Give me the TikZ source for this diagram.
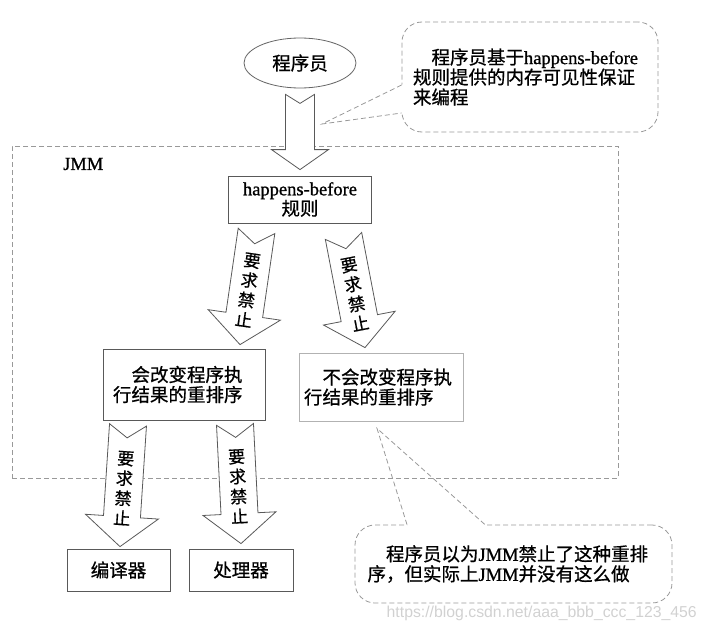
\documentclass[tikz,border=0pt]{standalone}
\usepackage{fontspec}
\setmainfont{Liberation Serif}[FakeBold=1]
\newfontfamily\cjk{Noto Sans CJK SC}[FakeBold=0.8]
\newfontfamily\urlfont{Liberation Sans}
\usetikzlibrary{shapes.geometric,calc}

\newcommand{\lat}[1]{{\rmfamily #1}}
\newcommand{\arrowdims}[4]{\def\shaftw{#1}\def\headw{#2}\def\headl{#3}\def\notchd{#4}}
\newcommand{\fatarrow}[4]{%
  \coordinate (#1-b) at ($(#3)!\headl!(#2)$);
  \draw[fatline] ($(#2)!\shaftw!90:(#3)$) -- ($(#2)!\notchd!(#3)$) -- ($(#2)!\shaftw!-90:(#3)$)
    -- ($(#1-b)!\shaftw!-90:(#3)$) -- ($(#1-b)!\headw!-90:(#3)$) -- (#3)
    -- ($(#1-b)!\headw!90:(#3)$) -- ($(#1-b)!\shaftw!90:(#3)$) -- cycle;
  \path let \p1=($(#3)-(#2)$), \n1={atan2(\y1,\x1)+90} in
    node[armtext, rotate=\n1] (#1) at ($(#2)!0.52!(#3)$) {#4};
}

\begin{document}
\begin{tikzpicture}[x=1pt,y=-1pt,
  every node/.style={font=\cjk\fontsize{18.5}{20}\selectfont},
  box/.style={draw=black!65, line width=0.8pt, inner sep=0pt},
  greybox/.style={draw=black!30, line width=0.8pt, inner sep=0pt},
  note/.style={draw=black!40, dash pattern=on 5pt off 3pt, line width=0.8pt, rounded corners=20pt},
  pointer/.style={draw=black!40, dash pattern=on 5pt off 3pt, line width=0.8pt},
  fatline/.style={draw=black!65, line width=0.8pt, fill=white, line join=miter},
  armtext/.style={font=\cjk\fontsize{17}{20}\selectfont, align=center, inner sep=0pt}]
\useasboundingbox (0,0) rectangle (704,634);

% JMM frame
\node[draw=black!40, dash pattern=on 5pt off 3pt, line width=0.8pt, minimum width=606pt, minimum height=332pt, inner sep=0pt] (jmm) at (315,312) {};
\node[anchor=west, inner sep=0pt] (jmmlabel) at (63,164) {\lat{JMM}};

% nodes
\node[ellipse, draw=black!60, line width=0.8pt, minimum width=112pt, minimum height=50pt, inner sep=0pt] (prog) at (300,63) {程序员};
\node[box, minimum width=143pt, minimum height=47pt, align=center] (hb) at (300,199.5) {\lat{happens-before}\\规则};
\node[box, minimum width=162pt, minimum height=71pt, text width=142pt, inner xsep=10pt, align=left] (lbox) at (184,384.5) {\hspace*{1em}会改变程序执\\行结果的重排序};
\node[greybox, minimum width=164pt, minimum height=68pt, text width=154pt, inner xsep=5pt, align=left] (rbox) at (381,387) {\hspace*{1em}不会改变程序执\\行结果的重排序};
\node[box, minimum width=103pt, minimum height=42pt] (comp) at (118.5,570) {编译器};
\node[box, minimum width=104pt, minimum height=42pt] (cpu) at (241,570) {处理器};

% fat arrows
\coordinate (t0) at ($(prog.south)+(0,6)$);
\coordinate (h0) at ($(hb.north)+(0,-6)$);
\coordinate (tA) at ($(hb.south)+(-43.5,7.5)$);
\coordinate (hA) at ($(lbox.north)+(56,-4)$);
\coordinate (tB) at ($(hb.south)+(43.5,12.5)$);
\coordinate (hB) at ($(rbox.north)+(-16,-5)$);
\coordinate (tC) at ($(lbox.south)+(-56,4.5)$);
\coordinate (hC) at ($(comp.north)+(1.5,-2)$);
\coordinate (tD) at ($(lbox.south)+(51,4)$);
\coordinate (hD) at ($(cpu.north)+(0,-5)$);
\arrowdims{14.5pt}{28.5pt}{20pt}{9pt}
\fatarrow{a0}{t0}{h0}{}
\arrowdims{18.5pt}{36.5pt}{30pt}{13pt}
\fatarrow{aA}{tA}{hA}{要\\求\\禁\\止}
\fatarrow{aB}{tB}{hB}{要\\求\\禁\\止}
\fatarrow{aC}{tC}{hC}{要\\求\\禁\\止}
\fatarrow{aD}{tD}{hD}{要\\求\\禁\\止}

% notes
\node[note, minimum width=256pt, minimum height=110pt, text width=234pt, inner xsep=11pt, align=left] (note1) at (530,77)
  {\hspace*{1em}程序员基于\lat{happens-before}\\规则提供的内存可见性保证\\来编程};
\coordinate (tip1) at (322,124);
\coordinate (b1) at ($(note1.west)+(0,8)$);
\coordinate (b2) at ($(note1.west)+(0,36)$);
\fill[white] ($(tip1)!0.95!(b1)$) -- ($(tip1)!1.03!(b1)$) -- ($(tip1)!1.03!(b2)$) -- ($(tip1)!0.95!(b2)$) -- cycle;
\draw[pointer] (b1) -- (tip1) -- (b2);

\node[note, minimum width=317pt, minimum height=78pt, text width=292pt, inner xsep=12.5pt, align=left] (note2) at (513.5,564)
  {\hspace*{1em}程序员以为\lat{JMM}禁止了这种重排\\序，但实际上\lat{JMM}并没有这么做};
\coordinate (tip2) at ($(rbox.south)+(-4,7)$);
\coordinate (b3) at ($(note2.north)+(-106.5,0)$);
\coordinate (b4) at ($(note2.north)+(-28.5,0)$);
\fill[white] ($(tip2)!0.95!(b3)$) -- ($(tip2)!1.03!(b3)$) -- ($(tip2)!1.03!(b4)$) -- ($(tip2)!0.95!(b4)$) -- cycle;
\draw[pointer] (b3) -- (tip2) -- (b4);

\node[anchor=east, inner sep=0pt, font=\urlfont\fontsize{15.8}{18}\selectfont, text=black!18] (wmark) at (697,613) {https://blog.csdn.net/aaa\_bbb\_ccc\_123\_456};
\end{tikzpicture}
\end{document}
